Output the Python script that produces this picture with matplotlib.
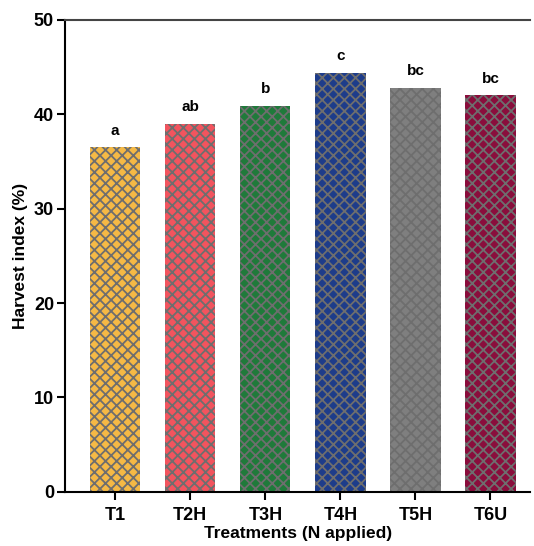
import matplotlib
matplotlib.use("Agg")
import matplotlib.pyplot as plt

plt.rcParams['font.family'] = ['Liberation Sans', 'DejaVu Sans']
plt.rcParams['font.weight'] = 'bold'
plt.rcParams['hatch.linewidth'] = 1.3
plt.rcParams['hatch.color'] = '#6e6e6e'

treatments = ['T1', 'T2H', 'T3H', 'T4H', 'T5H', 'T6U']
harvest_index = [36.5, 39.0, 40.9, 44.4, 42.8, 42.0]
letters = ['a', 'ab', 'b', 'c', 'bc', 'bc']
colors = ['#f5b945', '#f2545e', '#1f7a3a', '#1d3c8a', '#7f7f7f', '#8a0d3c']

fig = plt.figure(figsize=(5.34, 5.46), dpi=100)
ax = fig.add_axes([0.122, 0.099, 0.871, 0.865])

x = range(len(treatments))
bars = ax.bar(x, harvest_index, width=0.67, color=colors, edgecolor='#6e6e6e',
              linewidth=0, hatch='xxx')

for xi, v, lab in zip(x, harvest_index, letters):
    ax.text(xi, v + 1.0, lab, ha='center', va='bottom', fontsize=11, fontweight='bold')

ax.set_xlim(-0.667, 5.53)
ax.set_ylim(0, 50)
ax.set_yticks([0, 10, 20, 30, 40, 50])
ax.set_xticks(list(x))
ax.set_xticklabels(treatments, fontsize=13, fontweight='bold')
ax.tick_params(axis='y', labelsize=13, width=1.5, length=6, pad=2)
ax.tick_params(axis='x', width=1.5, length=6, pad=5)
for lbl in ax.get_yticklabels():
    lbl.set_fontweight('bold')

ax.spines['right'].set_visible(False)
for s in ['left', 'bottom', 'top']:
    ax.spines[s].set_linewidth(1.5)
ax.spines['top'].set_color('#444444')

ax.set_xlabel('Treatments (N applied)', fontsize=12.5, fontweight='bold', labelpad=1)
ax.set_ylabel('Harvest index (%)', fontsize=12.5, fontweight='bold', labelpad=4)

fig.savefig('out.png', dpi=100)
